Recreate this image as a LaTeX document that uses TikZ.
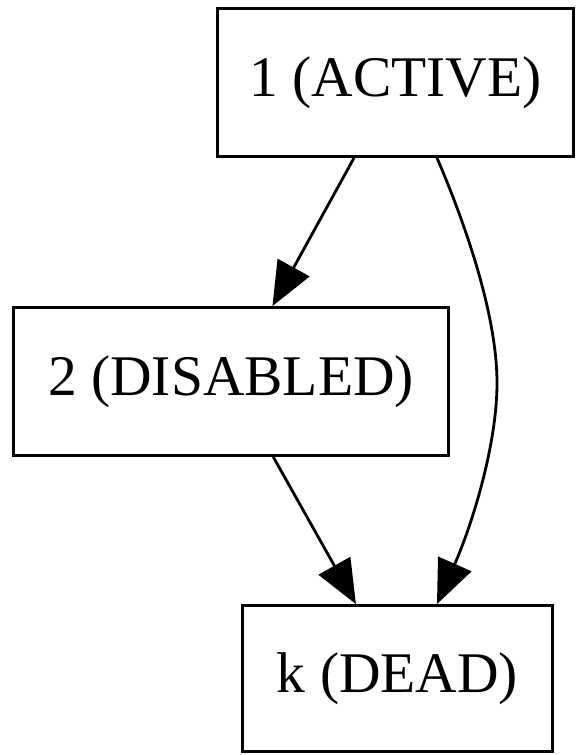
\documentclass[tikz,border=0pt]{standalone}
\usepackage{fontspec}
\setmainfont{Liberation Serif}
\usetikzlibrary{arrows.meta}
\begin{document}
\begin{tikzpicture}[x=1pt,y=-1pt,
  box/.style={draw, line width=2.8pt, inner sep=0pt, font=\fontsize{57.5}{60}\selectfont},
  edge/.style={line width=2.8pt, -{Triangle[length=44pt,width=36pt]}}]
\useasboundingbox (0,0) rectangle (577,755);
\node[box, minimum width=356pt, minimum height=148pt] (a) at (395.5,82.5) {1 (ACTIVE)};
\node[box, minimum width=435pt, minimum height=148pt] (b) at (231,381.5) {2 (DISABLED)};
\node[box, minimum width=310pt, minimum height=146pt] (c) at (397.5,678.5) {k (DEAD)};
\draw[edge] (a) -- (b);
\draw[edge] (b) -- (c);
\draw[edge] (a.south -| 437,0) .. controls (470,235) and (497,320) .. (497,383)
  .. controls (497,445) and (472,525) .. (c.north -| 437,0);
\end{tikzpicture}
\end{document}
